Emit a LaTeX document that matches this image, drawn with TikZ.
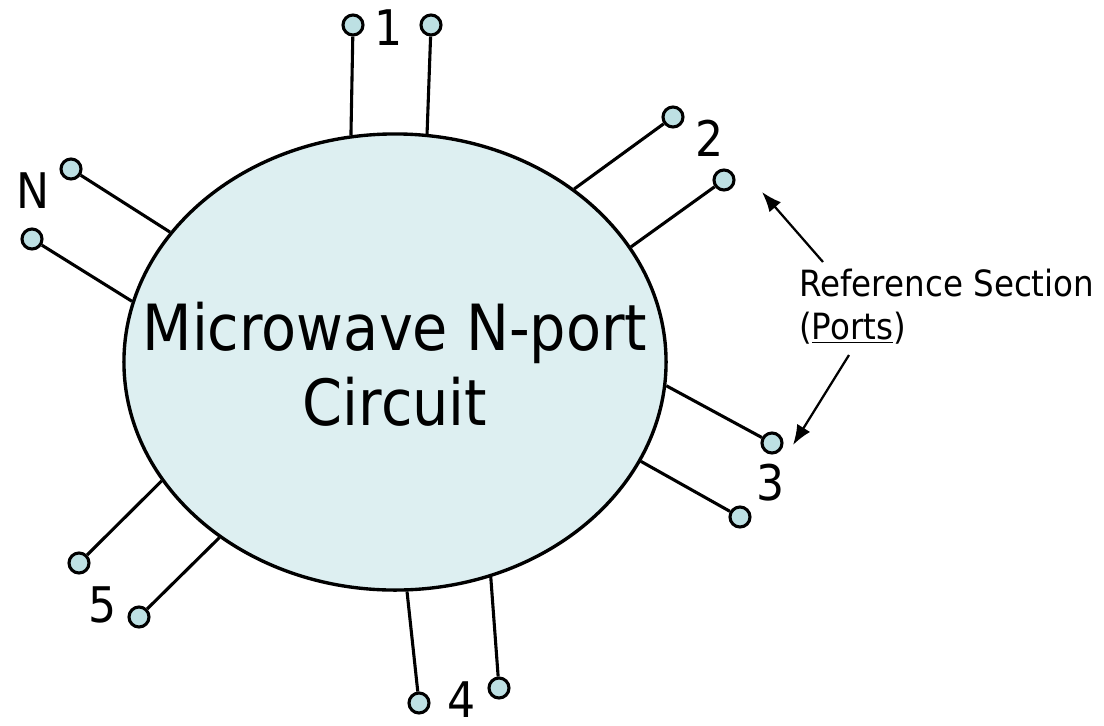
\documentclass[tikz,border=0pt]{standalone}
\usepackage{fontspec}
\setmainfont{DejaVu Sans}[FakeStretch=0.9]
\usepackage{tikz}
\usetikzlibrary{shapes.geometric}
\usetikzlibrary{arrows.meta}
\definecolor{cktfill}{HTML}{DDEFF1}
\definecolor{termfill}{HTML}{BDE0E3}

\begin{document}
\begin{tikzpicture}[
        x=0.025cm, y=-0.025cm,
        ckt/.style={
            ellipse,
            draw,
            line width=2.4pt,
            fill=cktfill,
            minimum width=13.55cm,
            minimum height=11.4cm,
            inner sep=0pt
        },
        term/.style={circle, draw, line width=2.2pt, fill=termfill, minimum size=0.5cm, inner sep=0pt},
        lead/.style={line width=2.2pt},
        num/.style={inner sep=0pt, font=\fontsize{34.9}{40}\selectfont},
        arrow/.style={-{Latex[length=5mm, width=3.8mm]}, line width=1.6pt}
    ]
    \useasboundingbox (0,0) rectangle (1104,725);

    \node[ckt] (ckt) at (395,362) {};
    \node[align=center, inner sep=0pt, font=\fontsize{45.3}{53.3}\selectfont] (name) at (395,364) {Microwave N-port\\Circuit};

    % port terminals
    \node[term] (t1a) at (353,25) {};
    \node[term] (t1b) at (431,25) {};
    \node[term] (t2a) at (673,117) {};
    \node[term] (t2b) at (724,180) {};
    \node[term] (t3a) at (772,443) {};
    \node[term] (t3b) at (740,517) {};
    \node[term] (t4a) at (419,703) {};
    \node[term] (t4b) at (499,688) {};
    \node[term] (t5a) at (79,563) {};
    \node[term] (t5b) at (139,617) {};
    \node[term] (tNa) at (71,169) {};
    \node[term] (tNb) at (32,239) {};

    \foreach \t/\a in {1a/101.7, 1b/82, 2a/44.2, 2b/26.1, 3a/-5.5, 3b/-22.8,
                       4a/-87, 4b/-66.6, 5a/207.4, 5b/225.5, Na/150, Nb/167.4}
        \draw[lead] (ckt.\a) -- (t\t);

    % port numbers
    \node[num] (n1) at (389,28) {1};
    \node[num] (n2) at (710,138) {2};
    \node[num] (n3) at (771,483) {3};
    \node[num] (n4) at (462,700) {4};
    \node[num] (n5) at (103,605) {5};
    \node[num] (nN) at (33,191) {N};

    \node[anchor=north west, inner sep=0pt, align=left, font=\fontsize{25.7}{30.6}\selectfont] (ref) at (799,269) {Reference Section\\(\underline{Ports})};

    \coordinate (upfrom) at (823,262);
    \coordinate (upto) at (762,192);
    \coordinate (downfrom) at (849,355);
    \coordinate (downto) at (793,445);
    \draw[arrow] (upfrom) -- (upto);
    \draw[arrow] (downfrom) -- (downto);

\end{tikzpicture}
\end{document}
